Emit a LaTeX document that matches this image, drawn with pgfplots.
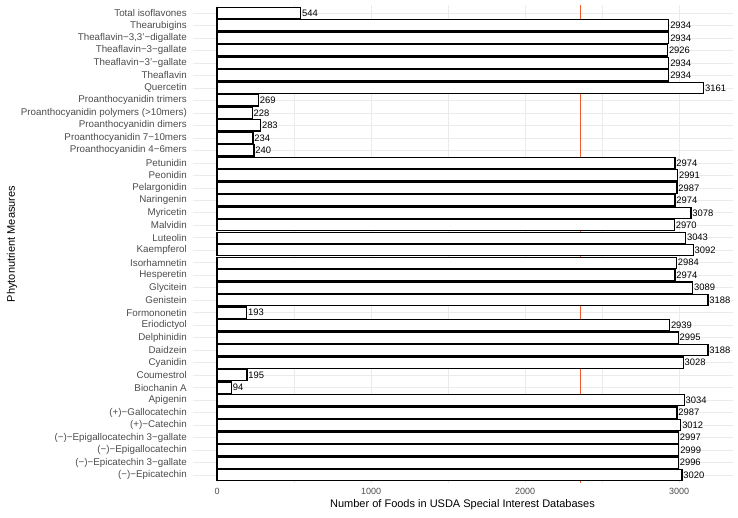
\documentclass[border=0pt]{standalone}
\usepackage{pgfplots}
\pgfplotsset{compat=1.18}
\usepackage{fontspec}
\setmainfont{Liberation Sans}
\definecolor{gridc}{HTML}{EBEBEB}
\definecolor{meanc}{RGB}{242,92,44}
\begin{document}
\begin{tikzpicture}
\useasboundingbox (0,0) rectangle (738pt,517pt);
\begin{axis}[
  at={(192.5pt,34.5pt)}, anchor=south west,
  scale only axis, width=540pt, height=477pt,
  xmin=-159.4, xmax=3347.4,
  ymin=-0.6, ymax=37.6,
  xtick={0,1000,2000,3000},
  minor xtick={500,1500,2500},
  ytick={0,...,37},
  yticklabels={
    {(−)−Epicatechin},
    {(−)−Epicatechin 3−gallate},
    {(−)−Epigallocatechin},
    {(−)−Epigallocatechin 3−gallate},
    {(+)−Catechin},
    {(+)−Gallocatechin},
    {Apigenin},
    {Biochanin A},
    {Coumestrol},
    {Cyanidin},
    {Daidzein},
    {Delphinidin},
    {Eriodictyol},
    {Formononetin},
    {Genistein},
    {Glycitein},
    {Hesperetin},
    {Isorhamnetin},
    {Kaempferol},
    {Luteolin},
    {Malvidin},
    {Myricetin},
    {Naringenin},
    {Pelargonidin},
    {Peonidin},
    {Petunidin},
    {Proanthocyanidin 4−6mers},
    {Proanthocyanidin 7−10mers},
    {Proanthocyanidin dimers},
    {Proanthocyanidin polymers (>10mers)},
    {Proanthocyanidin trimers},
    {Quercetin},
    {Theaflavin},
    {Theaflavin−3'−gallate},
    {Theaflavin−3−gallate},
    {Theaflavin−3,3'−digallate},
    {Thearubigins},
    {Total isoflavones}},
  xmajorgrids, ymajorgrids, xminorgrids,
  major grid style={draw=gridc, line width=0.6pt},
  minor grid style={draw=gridc, line width=0.35pt},
  axis line style={draw=none},
  tick style={draw=none},
  major tick length=0pt, minor tick length=0pt,
  /pgf/number format/1000 sep={},
  /pgf/number format/assume math mode=true,
  xticklabel style={font=\fontsize{9}{10}\selectfont, text=black!70, anchor=north, inner sep=0pt, yshift=-5.5pt},
  yticklabel style={font=\fontsize{9.8}{11}\selectfont, text=black!70, anchor=east, inner sep=0pt, xshift=-5.5pt},
  xlabel={Number of Foods in USDA Special Interest Databases},
  ylabel={Phytonutrient Measures},
  label style={font=\fontsize{11}{13}\selectfont, text=black},
  xlabel style={at={(axis description cs:0.5,-0.0472)}, anchor=center},
  ylabel style={at={(axis description cs:-0.3343,0.5)}, anchor=center, rotate=0},
]
\addplot[meanc, line width=1pt] coordinates {(2359,-0.6) (2359,37.6)};
\addplot[xbar, bar width=0.9, fill=white, draw=black, line width=1.2pt,
  nodes near coords={\pgfmathprintnumber{\pgfplotspointmeta}},
  nodes near coords style={anchor=west, inner sep=0.8pt, font=\fontsize{9.4}{10}\selectfont, text=black},
] coordinates {
(3020,0) (2996,1) (2999,2) (2997,3) (3012,4) (2987,5) (3034,6) (94,7)
(195,8) (3028,9) (3188,10) (2995,11) (2939,12) (193,13) (3188,14) (3089,15)
(2974,16) (2984,17) (3092,18) (3043,19) (2970,20) (3078,21) (2974,22) (2987,23)
(2991,24) (2974,25) (240,26) (234,27) (283,28) (228,29) (269,30) (3161,31)
(2934,32) (2934,33) (2926,34) (2934,35) (2934,36) (544,37)
};
\end{axis}
\end{tikzpicture}
\end{document}
